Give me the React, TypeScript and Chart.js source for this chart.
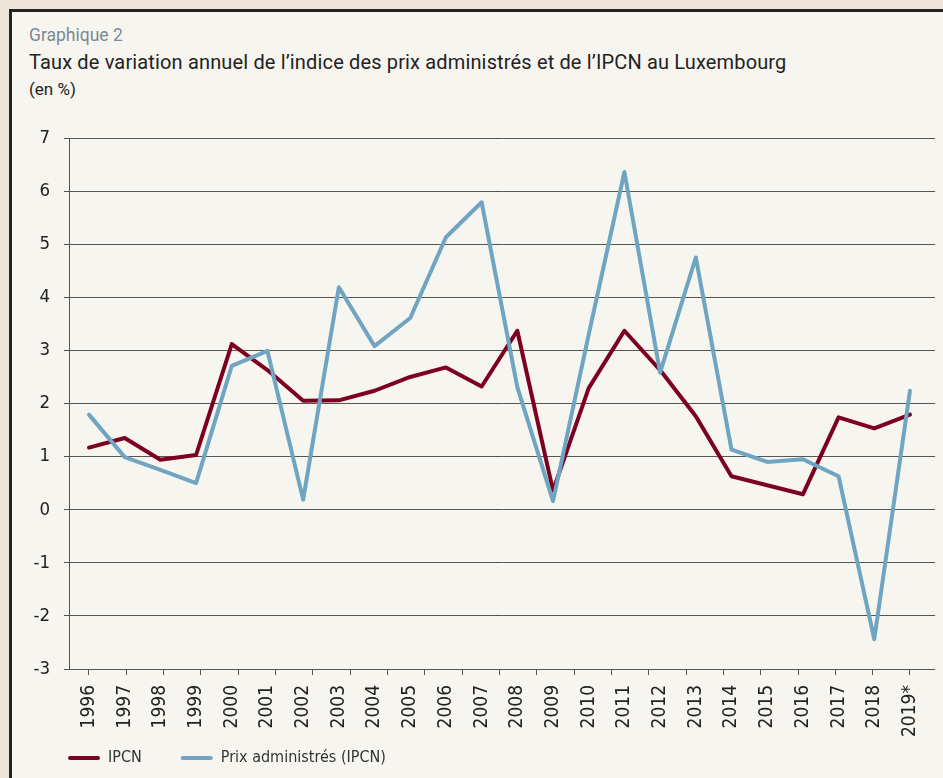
import React, { useEffect, useRef } from 'react';
import { Chart, registerables } from 'chart.js';

Chart.register(...registerables);

const years = ['1996', '1997', '1998', '1999', '2000', '2001', '2002', '2003', '2004', '2005', '2006', '2007', '2008', '2009', '2010', '2011', '2012', '2013', '2014', '2015', '2016', '2017', '2018', '2019*'];
const ipcn = [1.17, 1.35, 0.94, 1.03, 3.12, 2.63, 2.05, 2.06, 2.24, 2.5, 2.68, 2.32, 3.37, 0.36, 2.29, 3.37, 2.63, 1.76, 0.63, 0.46, 0.29, 1.74, 1.53, 1.79];
const prixAdministres = [1.79, 0.99, 0.75, 0.5, 2.71, 2.99, 0.19, 4.19, 3.08, 3.61, 5.13, 5.79, 2.31, 0.16, 3.3, 6.36, 2.58, 4.75, 1.13, 0.9, 0.95, 0.63, -2.44, 2.24];
const seriesLabels = ['IPCN', 'Prix administrés (IPCN)'];
const yTicks = { min: -3, max: 7, step: 1 };
const xTickMarkCount = 23;

const RED = '#7e0021';
const BLUE = '#6fa5c1';
const GRID = '#555555';
const TEXT = '#222222';
const NARROW = "'Liberation Sans Narrow', 'DejaVu Sans Condensed', Roboto, sans-serif";
const SANS = "Roboto, 'Noto Sans', sans-serif";

export default function App() {
  const ref = useRef<HTMLCanvasElement | null>(null);

  useEffect(() => {
    document.body.style.margin = '0';
    const canvas = ref.current;
    if (!canvas) return;
    const n = years.length;
    const xMin = -0.56;
    const xMax = 23.7;
    const chart = new Chart(canvas, {
      type: 'line',
      data: {
        datasets: [
          {
            label: seriesLabels[0],
            data: ipcn.map((y, x) => ({ x, y })),
            borderColor: RED,
            backgroundColor: RED,
            borderWidth: 4,
            pointRadius: 0,
            order: 1,
          },
          {
            label: seriesLabels[1],
            data: prixAdministres.map((y, x) => ({ x, y })),
            borderColor: BLUE,
            backgroundColor: BLUE,
            borderWidth: 4,
            pointRadius: 0,
            order: 0,
          },
        ],
      },
      options: {
        animation: false,
        responsive: false,
        maintainAspectRatio: false,
        layout: { padding: { left: 29, right: 6, top: 138, bottom: 2 } },
        elements: {
          line: { tension: 0, borderJoinStyle: 'round', borderCapStyle: 'round' },
        },
        scales: {
          x: {
            type: 'linear',
            position: 'bottom',
            min: xMin,
            max: xMax,
            weight: 1,
            grid: { display: false, drawTicks: false },
            border: { display: false },
            afterBuildTicks: (s: any) => {
              s.ticks = years.map((_, i) => ({ value: i }));
            },
            afterFit: (s: any) => {
              s.height = 36;
              // let the rotated labels overflow the (shortened) axis box
              s._computeLabelArea = () => undefined;
            },
            ticks: {
              autoSkip: false,
              minRotation: 90,
              maxRotation: 90,
              padding: 10,
              color: TEXT,
              font: { family: NARROW, size: 19 },
              callback: (v: any) => years[v as number],
            },
          },
          x2: {
            type: 'linear',
            position: 'bottom',
            min: xMin,
            max: xMax,
            weight: 0,
            grid: { drawOnChartArea: false, drawTicks: true, tickLength: 6, color: GRID },
            border: { display: true, color: GRID },
            ticks: { display: false },
            afterBuildTicks: (s: any) => {
              s.ticks = Array.from({ length: xTickMarkCount }, (_, k) => ({ value: (k * (n - 1)) / (xTickMarkCount - 1) }));
            },
          },
          y: {
            min: yTicks.min,
            max: yTicks.max,
            ticks: {
              stepSize: yTicks.step,
              padding: 14,
              color: TEXT,
              font: { family: NARROW, size: 18.5 },
            },
            grid: { color: GRID, tickLength: 5 },
            border: { color: GRID },
            afterFit: (s: any) => {
              s.width = 40;
            },
          },
        },
        plugins: {
          legend: {
            position: 'bottom',
            align: 'start',
            labels: {
              padding: 39,
              boxWidth: 32,
              boxHeight: 4,
              color: '#333',
              font: { family: NARROW, size: 16 },
              generateLabels: (c: any) =>
                c.data.datasets.map((d: any, i: number) => ({
                  text: d.label,
                  fillStyle: d.borderColor,
                  strokeStyle: d.borderColor,
                  lineWidth: 0,
                  hidden: false,
                  datasetIndex: i,
                  borderRadius: 2,
                  fontColor: '#333',
                })),
            },
          },
          tooltip: { enabled: false },
        },
      },
    });
    return () => chart.destroy();
  }, []);

  return (
    <div style={{ position: 'relative', width: 943, height: 778, overflow: 'hidden', background: '#ece4d8' }}>
      <div
        style={{
          position: 'absolute',
          left: 9,
          top: 9,
          width: 1000,
          height: 900,
          borderLeft: '3px solid #222',
          borderTop: '3px solid #222',
          background: '#f7f5f0',
        }}
      />
      <div style={{ position: 'absolute', left: 29, top: 26, fontFamily: SANS, fontSize: 17.5, lineHeight: '18px', color: '#7d8893', whiteSpace: 'nowrap' }}>
        Graphique 2
      </div>
      <div style={{ position: 'absolute', left: 29, top: 52, fontFamily: SANS, fontSize: 20, lineHeight: '20px', letterSpacing: '0.15px', color: '#222', whiteSpace: 'nowrap' }}>
        Taux de variation annuel de l’indice des prix administrés et de l’IPCN au Luxembourg
      </div>
      <div style={{ position: 'absolute', left: 29, top: 81, fontFamily: SANS, fontSize: 17, lineHeight: '17px', color: '#222', whiteSpace: 'nowrap' }}>
        (en %)
      </div>
      <canvas ref={ref} width={943} height={778} style={{ position: 'absolute', left: 0, top: 0, width: 943, height: 778 }} />
    </div>
  );
}
